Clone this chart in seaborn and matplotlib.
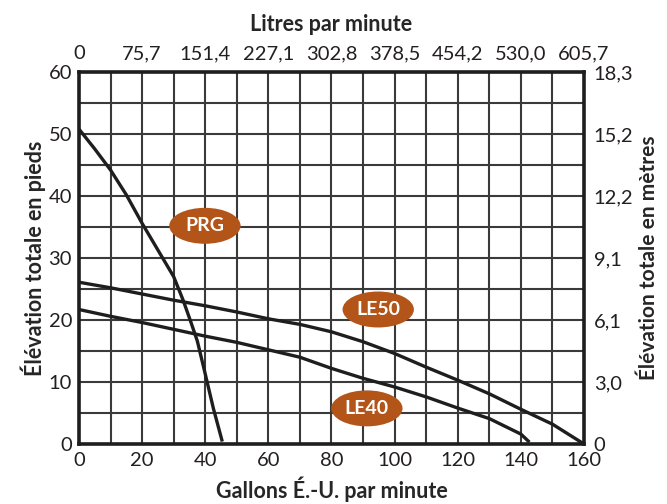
import numpy as np
import pandas as pd
import matplotlib
matplotlib.use("Agg")
import matplotlib.pyplot as plt
from matplotlib.patches import Ellipse
from matplotlib.ticker import MultipleLocator
import seaborn as sns

# ---- data ----
prg_gpm = [0, 5, 10, 15, 20, 25, 30, 33, 35.5, 37.5, 40, 42.6, 45.4]
prg_ft = [50.8, 47.6, 44.2, 40.2, 35.6, 31.3, 27.0, 23.2, 19.6, 16.6, 11.3, 5.7, 0.4]

le50_gpm = [0, 10, 20, 30, 40, 50, 60, 70, 80, 90, 100, 110, 120, 130, 140, 150, 160]
le50_ft = [26.1, 25.2, 24.2, 23.2, 22.3, 21.3, 20.2, 19.3, 18.1, 16.5, 14.6, 12.4, 10.3, 8.1, 5.6, 3.2, 0.0]

le40_gpm = [0, 10, 20, 30, 40, 50, 60, 70, 80, 90, 100, 110, 120, 130, 140, 142.7]
le40_ft = [21.7, 20.6, 19.6, 18.5, 17.4, 16.4, 15.2, 14.0, 12.2, 10.6, 9.2, 7.6, 5.8, 4.1, 1.6, 0.3]

series_names = ["PRG", "LE50", "LE40"]
label_pos_gpm = [39.9, 94.8, 91.2]
label_pos_ft = [35.2, 21.7, 5.75]

bottom_ticks = [0, 20, 40, 60, 80, 100, 120, 140, 160]
top_labels = ["0", "75,7", "151,4", "227,1", "302,8", "378,5", "454,2", "530,0", "605,7"]
left_ticks = [0, 10, 20, 30, 40, 50, 60]
right_labels = ["0", "3,0", "6,1", "9,1", "12,2", "15,2", "18,3"]

df = pd.concat([
    pd.DataFrame({"gpm": prg_gpm, "ft": prg_ft, "model": "PRG"}),
    pd.DataFrame({"gpm": le50_gpm, "ft": le50_ft, "model": "LE50"}),
    pd.DataFrame({"gpm": le40_gpm, "ft": le40_ft, "model": "LE40"}),
])

sns.set_style("white")
plt.rcParams["font.family"] = ["Lato", "DejaVu Sans"]
plt.rcParams["text.color"] = "#231f20"

fig = plt.figure(figsize=(6.67, 5.04), dpi=100)
ax = fig.add_axes([0.1184, 0.119, 0.7572, 0.738])

grid_color = "#3a3a3a"
ax.set_xlim(0, 160)
ax.set_ylim(0, 60)
ax.xaxis.set_minor_locator(MultipleLocator(10))
ax.yaxis.set_minor_locator(MultipleLocator(5))
ax.set_xticks(bottom_ticks)
ax.set_yticks(left_ticks)
ax.grid(True, which="both", color=grid_color, linewidth=1.5)
ax.set_axisbelow(True)

sns.lineplot(data=df, x="gpm", y="ft", units="model", estimator=None,
             color="#1e1e1e", linewidth=2.4, sort=False, ax=ax, legend=False)
for ln in ax.lines:
    ln.set_solid_joinstyle("round")
    ln.set_solid_capstyle("butt")

for s in ax.spines.values():
    s.set_color("#1e1e1e")
    s.set_linewidth(2.6)

tick_fs = 14.5
lab_fs = 15.5
ax.tick_params(axis="both", which="both", length=0, labelsize=tick_fs, colors="#231f20")
ax.tick_params(axis="x", pad=6)
ax.tick_params(axis="y", pad=5)
ax.set_xlabel("Gallons É.-U. par minute", fontsize=lab_fs, fontweight="bold", labelpad=5)
ax.set_ylabel("Élévation totale en pieds", fontsize=lab_fs, fontweight="bold", labelpad=2)

secx = ax.secondary_xaxis("top")
secx.set_xticks(bottom_ticks, labels=top_labels)
secx.tick_params(length=0, labelsize=tick_fs, pad=7, colors="#231f20")
secx.set_xlabel("Litres par minute", fontsize=lab_fs, fontweight="bold", labelpad=10)
secx.spines["top"].set_visible(False)

secy = ax.secondary_yaxis("right")
secy.set_yticks(left_ticks, labels=right_labels)
secy.tick_params(length=0, labelsize=tick_fs, pad=7, colors="#231f20")
secy.set_ylabel("Élévation totale en mètres", fontsize=15, fontweight="bold", labelpad=4)
secy.spines["right"].set_visible(False)

for name, gx, gy in zip(series_names, label_pos_gpm, label_pos_ft):
    e = Ellipse((gx, gy), width=22.6, height=5.8, facecolor="#b35418",
                edgecolor="none", zorder=5)
    ax.add_patch(e)
    ax.text(gx, gy, name, color="white", fontsize=14, fontweight="bold",
            ha="center", va="center", zorder=6)

fig.savefig("out.png", dpi=100)
